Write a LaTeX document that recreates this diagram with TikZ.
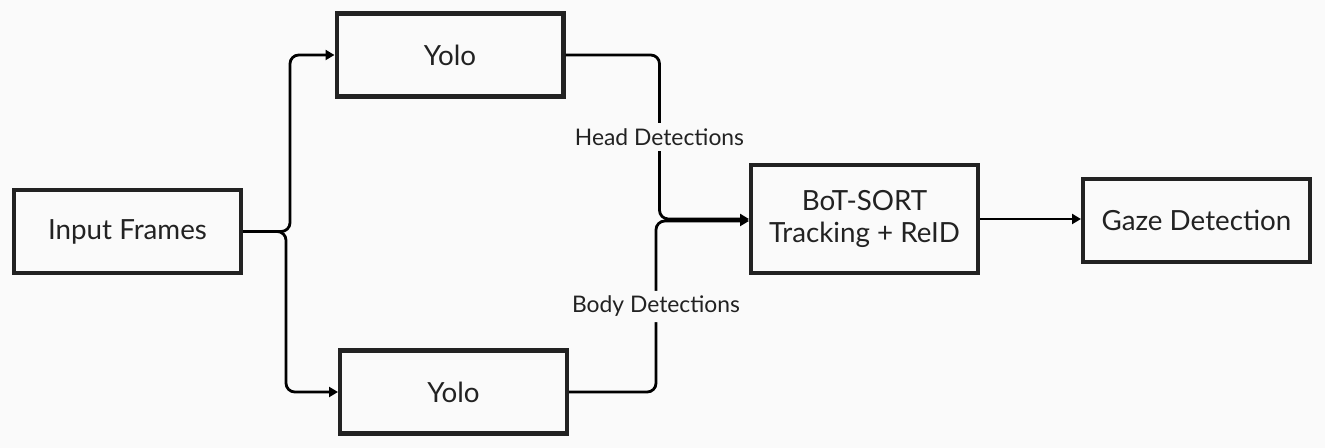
\documentclass[tikz,border=0pt]{standalone}
\usepackage{fontspec}
\setmainfont{Lato}
\usepackage{tikz}
\usetikzlibrary{arrows.meta, positioning, calc}
\definecolor{bgc}{RGB}{250,250,250}
\definecolor{boxc}{RGB}{34,34,34}
\tikzset{
  stage/.style={draw=boxc, line width=2.3pt, fill=bgc, inner sep=0pt,
    minimum width=4.54cm, minimum height=1.66cm, align=center,
    text=boxc, font=\fontsize{15.8}{20}\selectfont},
  flow/.style={black, line width=1.6pt, rounded corners=5pt,
    -{Triangle[length=1.8mm, width=2mm]}},
  tag/.style={fill=bgc, inner sep=3pt, text=boxc, font=\fontsize{13}{15}\selectfont}
}

\begin{document}
\begin{tikzpicture}[x=0.02cm, y=-0.02cm]
  \fill[bgc] (0,0) rectangle (1325,448);
  \useasboundingbox (0,0) rectangle (1325,448);
  \node[stage] (frames) at (127.5,231.5) {Input Frames};
  \node[stage] (yolohead) at (450,55) {Yolo};
  \node[stage] (yolobody) at (453.5,392) {Yolo};
  \node[stage, minimum height=2.16cm] (track) at (864.5,219) {BoT-SORT\\[-2pt]Tracking + ReID};
  \node[stage] (gaze) at (1196.5,220.5) {Gaze Detection};
  % detector branches
  \draw[flow] (frames.east) -- ++(47,0) |- (yolohead.west);
  \draw[flow] (frames.east) -- ++(43,0) |- (yolobody.west);
  % detections into tracker
  \draw[flow] (yolohead.east) -- ++(94,0) |- node[tag, pos=0.25] {Head Detections} (track.west);
  \draw[flow] (yolobody.east) -- ++(87,0) |- node[tag, pos=0.25] {Body Detections} ($(track.west)+(0,2)$);
  \draw[flow] (track.east) -- (track.east -| gaze.west);
\end{tikzpicture}
\end{document}
